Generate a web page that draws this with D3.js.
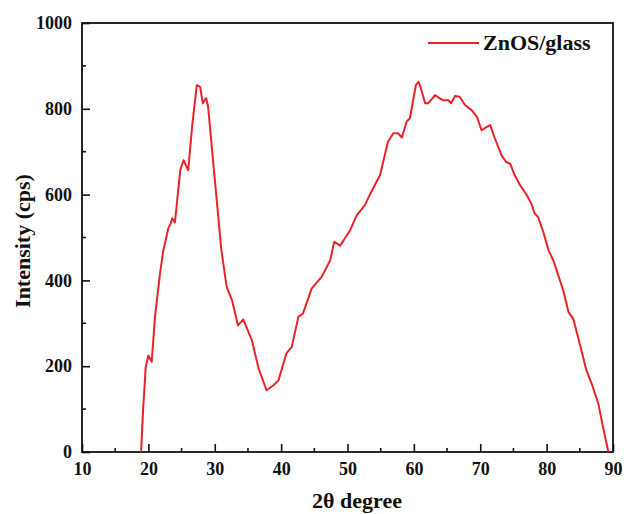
<!DOCTYPE html>
<html>
<head>
<meta charset="utf-8">
<script src="https://cdn.jsdelivr.net/npm/d3@7"></script>
<style>
	body { margin: 0; background: #fff; }
	text { font-family: "Liberation Serif", "Times New Roman", serif; font-weight: bold; fill: #111; }
</style>
</head>
<body>
<div id="chart"></div>
<script>
// 2theta positions and intensity (cps)
var twoTheta = [18.9, 19.2, 19.6, 20.0, 20.5, 21.0, 21.75, 22.25, 23.0, 23.3, 23.6, 24.0, 24.8, 25.3, 25.6, 26.0, 26.6,
	27.3, 27.8, 28.2, 28.7, 29.0, 29.5, 30.3, 31.0, 31.8, 32.6, 33.5, 34.3, 35.6, 36.6, 37.8, 38.8, 39.6,
	40.8, 41.6, 42.6, 43.3, 44.6, 46.1, 47.4, 48.0, 48.9, 50.4, 51.4, 52.6, 53.7, 54.9, 56.1, 56.9, 57.6,
	58.2, 58.9, 59.4, 60.3, 60.7, 61.0, 61.7, 62.2, 63.2, 63.9, 64.4, 65.2, 65.6, 66.2, 66.9, 67.7, 68.7,
	69.5, 70.2, 71.0, 71.5, 72.2, 73.2, 73.9, 74.5, 75.2, 76.0, 77.0, 77.7, 78.2, 78.7, 79.5, 80.3, 81.0,
	81.5, 82.5, 83.3, 84.0, 85.0, 86.0, 86.8, 87.8, 88.5, 89.3];
var intensity = [0, 97, 198, 225, 210, 315, 416, 470, 521, 530, 545, 535, 657, 680, 670, 657, 760,
	855, 851, 813, 825, 805, 720, 587, 470, 385, 354, 295, 309, 260, 195, 144, 155, 167,
	230, 245, 315, 323, 381, 408, 447, 490, 481, 517, 552, 575, 610, 645, 723, 743, 743,
	733, 770, 778, 855, 863, 851, 813, 813, 832, 824, 820, 820, 813, 830, 828, 809, 797,
	781, 750, 758, 762, 731, 692, 676, 672, 645, 622, 599, 579, 556, 548, 513, 470, 447,
	424, 377, 326, 311, 252, 190, 159, 112, 58, 0];

var xTicks = [10, 20, 30, 40, 50, 60, 70, 80, 90];
var yTicks = [0, 200, 400, 600, 800, 1000];
var seriesName = "ZnOS/glass";

var width = 624, height = 514;
var margin = {top: 23, right: 11, bottom: 62, left: 82};
var innerW = width - margin.left - margin.right;
var innerH = height - margin.top - margin.bottom;
var red = "#e8232b";

var svg = d3.select("#chart").append("svg")
	.attr("width", width)
	.attr("height", height);

var g = svg.append("g")
	.attr("transform", "translate(" + margin.left + "," + margin.top + ")");

var x = d3.scaleLinear().domain([10, 90]).range([0, innerW]);
var y = d3.scaleLinear().domain([0, 1000]).range([innerH, 0]);

//Minor ticks every half step, drawn inward
var xMinor = d3.range(15, 90, 10);
var yMinor = d3.range(100, 1000, 200);

var xAxis = g.append("g")
	.attr("transform", "translate(0," + innerH + ")")
	.call(d3.axisBottom(x).tickValues(xTicks).tickSize(-8).tickPadding(14).tickFormat(d3.format("d")));
var yAxis = g.append("g")
	.call(d3.axisLeft(y).tickValues(yTicks).tickSize(-8).tickPadding(10).tickFormat(d3.format("d")));

[xAxis, yAxis].forEach(function(a){
	a.select(".domain").remove();
	a.selectAll("line").attr("stroke", "#111").attr("stroke-width", 1.6);
	a.selectAll("text").style("font-size", "18px").attr("fill", "#111");
});
xAxis.selectAll("text").attr("dy", "0.5em");

g.append("g").selectAll("line").data(xMinor).enter().append("line")
	.attr("x1", function(d){ return x(d); }).attr("x2", function(d){ return x(d); })
	.attr("y1", innerH).attr("y2", innerH - 4)
	.attr("stroke", "#111").attr("stroke-width", 1.6);
g.append("g").selectAll("line").data(yMinor).enter().append("line")
	.attr("y1", function(d){ return y(d); }).attr("y2", function(d){ return y(d); })
	.attr("x1", 0).attr("x2", 4)
	.attr("stroke", "#111").attr("stroke-width", 1.6);

//Frame around plot area
g.append("rect")
	.attr("width", innerW).attr("height", innerH)
	.attr("fill", "none").attr("stroke", "#111").attr("stroke-width", 1.8);

var data = twoTheta.map(function(t, i){ return {t: t, v: intensity[i]}; });
var line = d3.line()
	.x(function(d){ return x(d.t); })
	.y(function(d){ return y(d.v); });

g.append("path")
	.datum(data)
	.attr("fill", "none")
	.attr("stroke", red)
	.attr("stroke-width", 2)
	.attr("stroke-linejoin", "round")
	.attr("d", line);

//Legend
var leg = g.append("g").attr("transform", "translate(" + (428 - margin.left) + "," + (43 - margin.top) + ")");
leg.append("line").attr("x1", 0).attr("x2", 51).attr("y1", 0).attr("y2", 0)
	.attr("stroke", red).attr("stroke-width", 2);
leg.append("text").attr("x", 55).attr("y", 7).style("font-size", "22px").text(seriesName);

//Axis titles
svg.append("text")
	.attr("x", 357).attr("y", 508)
	.attr("text-anchor", "middle")
	.style("font-size", "22px")
	.text("2θ degree");
svg.append("text")
	.attr("transform", "translate(30,241) rotate(-90)")
	.attr("text-anchor", "middle")
	.style("font-size", "22px")
	.text("Intensity (cps)");
</script>
</body>
</html>
